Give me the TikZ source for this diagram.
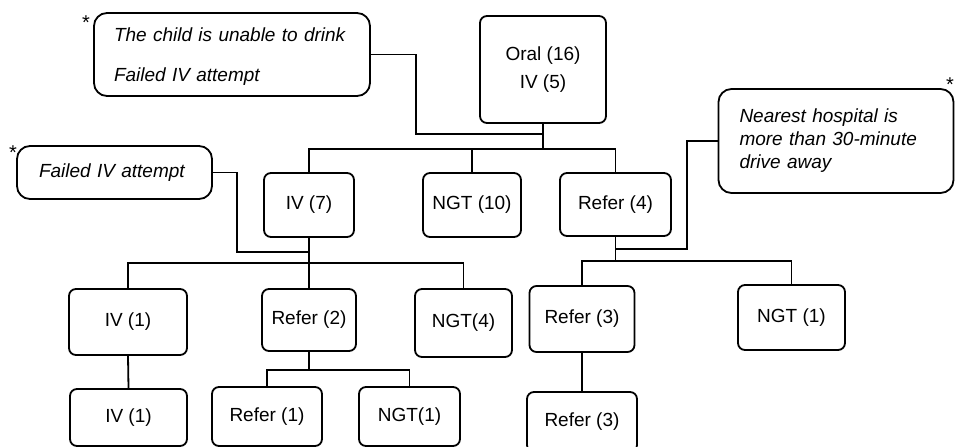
\documentclass[tikz,border=0pt]{standalone}
\usepackage{fontspec}
\setmainfont{Liberation Sans}
\begin{document}
\begin{tikzpicture}[x=1pt,y=-1pt,
  every node/.style={font=\fontsize{19}{23}\selectfont},
  box/.style={draw, line width=1.8pt, rounded corners=7pt, inner sep=0pt, align=center},
  note/.style={draw, line width=1.8pt, rounded corners=13pt, inner xsep=20pt, inner ysep=0pt, align=left, font=\fontsize{19}{23}\selectfont\itshape},
  conn/.style={line width=1.8pt},
  star/.style={inner sep=0pt, font=\fontsize{20}{20}\selectfont}]
\clip (0,0) rectangle (956,447);
\fill[white] (0,0) rectangle (956,447);
% boxes
\node[box, minimum width=126pt, minimum height=107pt] (oral) at (543,69.5) {Oral (16)\\[5pt]IV (5)};
\node[box, minimum width=90pt, minimum height=64pt] (iv7) at (309,205) {IV (7)};
\node[box, minimum width=98pt, minimum height=64pt] (ngt10) at (472,205) {NGT (10)};
\node[box, minimum width=111pt, minimum height=63pt] (refer4) at (615.5,204.5) {Refer (4)};
\node[box, minimum width=118pt, minimum height=66pt] (iv1a) at (128,322) {IV (1)};
\node[box, minimum width=94pt, minimum height=62pt] (refer2) at (309,320) {Refer (2)};
\node[box, minimum width=97pt, minimum height=68pt] (ngt4) at (463.5,323) {NGT(4)};
\node[box, minimum width=117pt, minimum height=57pt] (iv1b) at (128.5,417.5) {IV (1)};
\node[box, minimum width=110pt, minimum height=59pt] (refer1) at (267,416.5) {Refer (1)};
\node[box, minimum width=101pt, minimum height=59pt] (ngt1a) at (409.5,416.5) {NGT(1)};
\node[box, minimum width=105pt, minimum height=66pt] (refer3a) at (582,319) {Refer (3)};
\node[box, minimum width=107pt, minimum height=65pt] (ngt1b) at (791.5,317.5) {NGT (1)};
\node[box, minimum width=110pt, minimum height=60pt] (refer3b) at (582,422) {Refer (3)};
% notes
\node[note, text width=236pt, minimum height=83pt] (n1) at (232,54.5) {\rule{0pt}{17pt}The child is unable to drink\\[17pt]Failed IV attempt};
\node[note, text width=151pt, minimum height=53pt, inner xsep=22pt] (n2) at (114.5,172.5) {Failed IV attempt};
\node[note, text width=193pt, minimum height=104pt, inner xsep=21pt] (n3) at (836,141) {Nearest hospital is\\more than 30-minute\\drive away};
% asterisks
\node[star] (s1) at (86,23) {*};
\node[star] (s2) at (13,153) {*};
\node[star] (s3) at (950,85) {*};
% connectors
\coordinate (b1) at (543,149);
\coordinate (j1) at (543,134);
\coordinate (b2) at (309,263);
\coordinate (j2) at (309,252);
\coordinate (b3) at (309,370);
\coordinate (b4) at (615.5,261);
\coordinate (j4) at (615.5,249);
\draw[conn] (oral.south) -- (b1);
\draw[conn] (b1) -| (iv7.north);
\draw[conn] (b1) -| (ngt10.north);
\draw[conn] (b1) -| (refer4.north);
\draw[conn] (n1.east) -| (416,134) -- (j1);
\draw[conn] (iv7.south) -- (b2);
\draw[conn] (b2) -| (iv1a.north);
\draw[conn] (b2) -- (refer2.north);
\draw[conn] (b2) -| (ngt4.north);
\draw[conn] (n2.east) -| (237,252) -- (j2);
\draw[conn] (iv1a.south) -- (iv1b.north);
\draw[conn] (refer2.south) -- (b3);
\draw[conn] (b3) -| (refer1.north);
\draw[conn] (b3) -| (ngt1a.north);
\draw[conn] (refer4.south) -- (b4);
\draw[conn] (b4) -| (refer3a.north);
\draw[conn] (b4) -| (ngt1b.north);
\draw[conn] (n3.west) -| (687,249) -- (j4);
\draw[conn] (refer3a.south) -- (refer3b.north);
\end{tikzpicture}
\end{document}
